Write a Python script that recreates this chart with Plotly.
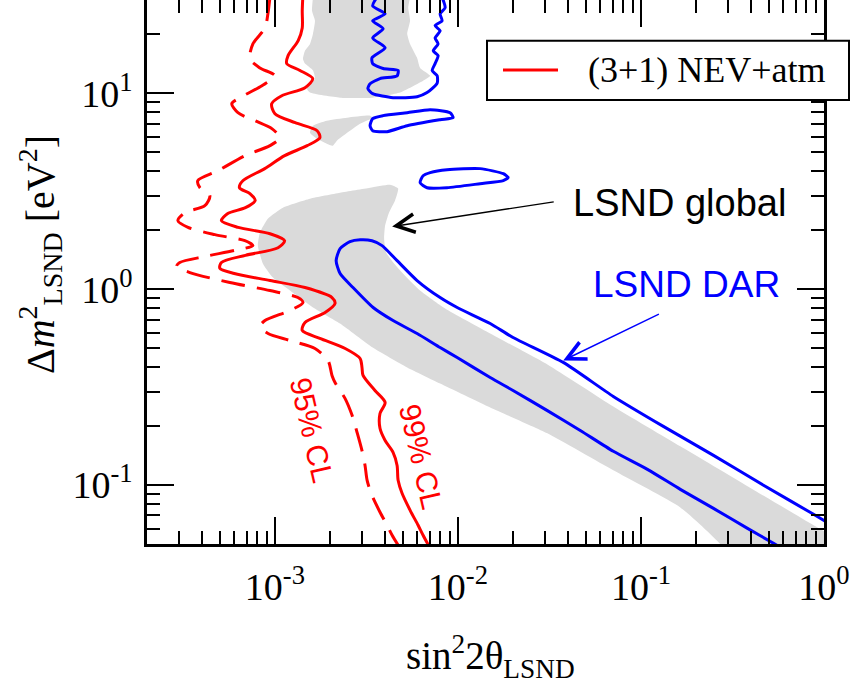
import math
import plotly.graph_objects as go

# ---------------- data (sin^2 2theta , Delta m^2 [eV^2]) ----------------
# (3+1) NEV+atm, 99% CL (solid red)
cl99_s2 = [1.42e-3, 1.41e-3, 1.41e-3, 1.34e-3, 1.18e-3, 1.16e-3, 1.37e-3, 1.61e-3, 1.46e-3, 1.09e-3,
           9.6e-4, 1.0e-3, 1.29e-3, 1.70e-3, 1.76e-3, 1.50e-3, 1.13e-3, 8.8e-4, 6.7e-4, 6.4e-4,
           7.3e-4, 7.8e-4, 6.9e-4, 5.5e-4, 5.1e-4, 6.3e-4, 9.4e-4, 1.13e-3, 1.04e-3, 6.9e-4,
           5.1e-4, 5.0e-4, 6.0e-4, 9.4e-4, 1.46e-3, 2.05e-3, 2.13e-3, 1.88e-3, 1.46e-3, 1.41e-3,
           1.76e-3, 2.42e-3, 2.92e-3, 2.99e-3, 3.03e-3, 3.52e-3, 4.00e-3, 3.75e-3, 3.75e-3, 4.00e-3,
           4.42e-3, 4.65e-3, 4.71e-3, 4.95e-3, 5.48e-3, 6.06e-3, 6.45e-3, 7.05e-3]
cl99_dm2 = [31, 26.4, 21.6, 18.6, 15.6, 14.2, 13.1, 11.9, 10.7, 9.73,
            8.86, 7.88, 7.09, 6.45, 5.94, 5.41, 4.81, 4.13, 3.59, 3.30,
            3.08, 2.84, 2.61, 2.43, 2.24, 2.07, 1.92, 1.77, 1.63, 1.49,
            1.37, 1.28, 1.203, 1.108, 1.020, 0.907, 0.846, 0.761, 0.676, 0.616,
            0.561, 0.498, 0.443, 0.399, 0.363, 0.304, 0.264, 0.232, 0.195, 0.169,
            0.147, 0.126, 0.1057, 0.0908, 0.0743, 0.0623, 0.0554, 0.0475]

# (3+1) NEV+atm, 95% CL (dashed red)
cl95_s2 = [9.39e-4, 9.17e-4, 8.82e-4, 7.58e-4, 7.30e-4, 8.28e-4, 1.0e-3, 8.49e-4, 6.44e-4, 5.81e-4,
           6.28e-4, 7.78e-4, 9.62e-4, 1.065e-3, 9.39e-4, 6.85e-4, 4.88e-4, 3.79e-4, 3.89e-4, 4.41e-4,
           4.14e-4, 3.22e-4, 2.95e-4, 3.35e-4, 4.70e-4, 6.85e-4, 7.58e-4, 6.04e-4, 4.14e-4, 3.02e-4,
           2.90e-4, 3.43e-4, 5.67e-4, 9.39e-4, 1.335e-3, 1.423e-3, 1.208e-3, 8.82e-4, 8.28e-4, 9.17e-4,
           1.208e-3, 1.655e-3, 1.95e-3, 2.05e-3, 2.13e-3, 2.415e-3, 2.64e-3, 2.81e-3, 2.99e-3, 3.107e-3,
           3.19e-3, 3.39e-3, 3.753e-3, 4.10e-3, 4.37e-3, 4.83e-3]
cl95_dm2 = [31, 25.8, 21.6, 17.9, 15.0, 13.5, 12.3, 10.95, 9.51, 8.86,
            7.97, 7.26, 6.61, 5.94, 5.41, 4.81, 4.03, 3.59, 3.30, 3.01,
            2.67, 2.46, 2.24, 2.07, 1.90, 1.77, 1.67, 1.58, 1.47, 1.37,
            1.31, 1.217, 1.082, 0.985, 0.907, 0.855, 0.779, 0.692, 0.645, 0.594,
            0.547, 0.498, 0.433, 0.363, 0.334, 0.277, 0.227, 0.186, 0.150, 0.126,
            0.1057, 0.0886, 0.0726, 0.0623, 0.0554, 0.0475]

# LSND DAR (blue) main region
dar_s2 = [0.745, 0.530, 0.382, 0.249, 0.164, 0.1084, 0.0706, 0.0466, 0.0308, 0.0200,
          0.0150, 9.90e-3, 7.99e-3, 5.98e-3, 4.42e-3, 3.44e-3, 2.67e-3, 2.27e-3, 2.16e-3, 2.27e-3,
          2.57e-3, 2.92e-3, 3.39e-3, 3.85e-3, 4.65e-3, 5.98e-3, 7.99e-3, 9.90e-3, 0.0150, 0.0200,
          0.0376, 0.0706, 0.1325, 0.249, 0.467, 0.877, 1.40]
dar_dm2 = [0.0418, 0.0504, 0.0601, 0.0760, 0.0951, 0.1203, 0.1487, 0.190, 0.240, 0.304,
           0.354, 0.448, 0.504, 0.594, 0.692, 0.807, 1.020, 1.203, 1.40, 1.614,
           1.751, 1.79, 1.77, 1.67, 1.40, 1.108, 0.907, 0.807, 0.668, 0.567,
           0.423, 0.2836, 0.1994, 0.1418, 0.0997, 0.0709, 0.0547]

# LSND DAR islands
dar_isl1_s2 = [3.31e-3, 3.42e-3, 3.90e-3, 5.28e-3, 7.05e-3, 9.06e-3, 9.41e-3, 7.99e-3, 5.28e-3, 4.10e-3, 3.42e-3, 3.31e-3]
dar_isl1_dm2 = [6.84, 7.43, 7.70, 7.97, 8.26, 7.97, 7.52, 7.34, 6.84, 6.38, 6.45, 6.84]
dar_isl2_s2 = [6.21e-3, 6.45e-3, 7.05e-3, 8.72e-3, 1.322e-2, 1.77e-2, 1.88e-2, 1.77e-2, 1.322e-2, 8.72e-3, 6.78e-3, 6.21e-3]
dar_isl2_dm2 = [3.50, 3.80, 3.94, 4.08, 4.13, 3.89, 3.72, 3.59, 3.46, 3.30, 3.30, 3.50]
dar_top_s2 = [3.61e-3, 3.42e-3, 4.00e-3, 3.42e-3, 3.90e-3, 3.42e-3, 4.00e-3, 3.39e-3, 3.42e-3, 3.90e-3,
              4.71e-3, 4.65e-3, 3.75e-3, 3.31e-3, 3.22e-3, 3.42e-3, 4.42e-3, 5.98e-3, 6.78e-3, 7.70e-3,
              7.70e-3, 7.23e-3, 7.50e-3, 7.79e-3, 7.33e-3, 7.79e-3, 7.50e-3, 7.99e-3, 7.50e-3, 8.19e-3,
              7.99e-3, 8.51e-3, 8.19e-3]
dar_top_dm2 = [31, 28.0, 25.5, 23.5, 21.4, 19.2, 17.1, 15.2, 14.2, 13.4,
               13.1, 12.3, 11.9, 11.2, 10.6, 9.97, 9.51, 9.62, 10.1, 11.3,
               12.3, 13.1, 14.2, 15.6, 16.5, 17.9, 19.2, 20.9, 22.2, 23.5,
               25.5, 27.4, 31]

# LSND global (grey) regions
glob_top_s2 = [1.614e-3, 1.594e-3, 1.655e-3, 1.614e-3, 1.554e-3, 1.459e-3, 1.423e-3, 1.459e-3, 1.614e-3, 1.655e-3,
               1.495e-3, 1.554e-3, 2.268e-3, 3.42e-3, 4.83e-3, 6.45e-3, 7.05e-3, 6.21e-3, 5.98e-3, 5.476e-3,
               5.28e-3, 5.476e-3, 5.35e-3, 5.476e-3]
glob_top_dm2 = [31, 26.4, 23.5, 20.2, 17.9, 16.5, 15.0, 14.2, 13.1, 11.9,
                10.6, 10.1, 9.51, 9.51, 10.1, 11.6, 12.3, 13.5, 15.2, 17.9,
                20.2, 23.5, 27.4, 31]
glob_mid_s2 = [1.554e-3, 1.614e-3, 1.92e-3, 2.48e-3, 3.31e-3, 3.42e-3, 2.917e-3, 2.48e-3, 2.18e-3, 2.07e-3, 1.92e-3, 1.697e-3, 1.554e-3]
glob_mid_dm2 = [6.30, 6.84, 7.26, 7.52, 7.70, 7.52, 7.01, 6.30, 5.74, 5.41, 5.54, 5.87, 6.30]
glob_main_s2 = [8.07e-4, 8.28e-4, 9.17e-4, 1.106e-3, 1.554e-3, 2.268e-3, 3.309e-3, 4.257e-3, 4.71e-3, 4.533e-3,
                4.20e-3, 3.997e-3, 3.95e-3, 4.05e-3, 4.71e-3, 6.21e-3, 8.51e-3, 1.50e-2, 3.08e-2, 7.06e-2,
                0.164, 0.382, 0.877, 1.40, 1.40, 0.308, 0.272, 0.164, 7.06e-2, 3.08e-2,
                1.50e-2, 7.99e-3, 5.28e-3, 3.42e-3, 2.268e-3, 1.614e-3, 1.208e-3, 9.75e-4, 8.60e-4, 8.07e-4]
glob_main_dm2 = [1.67, 1.95, 2.30, 2.61, 2.90, 3.11, 3.30, 3.42, 3.27, 2.84,
                 2.46, 2.11, 1.81, 1.539, 1.28, 0.985, 0.797, 0.594, 0.413, 0.252,
                 0.1576, 0.0986, 0.0623, 0.0475, 0.0412, 0.0412, 0.0498, 0.0769, 0.1189, 0.1837,
                 0.249, 0.330, 0.399, 0.504, 0.668, 0.807, 0.985, 1.147, 1.35, 1.67]

# axes
x_range = [2e-4, 1.0]
y_range = [0.05, 30.0]
x_tickvals = [1e-3, 1e-2, 1e-1, 1.0]
x_ticktext = ["10<sup>-3</sup>", "10<sup>-2</sup>", "10<sup>-1</sup>", "10<sup>0</sup>"]
y_tickvals = [1e-1, 1.0, 10.0]
y_ticktext = ["10<sup>-1</sup>", "10<sup>0</sup>", "10<sup>1</sup>"]
x_minor = [m * 10.0 ** e for e in (-4, -3, -2, -1) for m in range(2, 10) if 2e-4 < m * 10.0 ** e < 1]
y_minor = [m * 10.0 ** e for e in (-2, -1, 0, 1) for m in range(2, 10) if 0.05 < m * 10.0 ** e < 30]

# annotation positions (data values)
global_label = (0.162, 2.77)
global_arrow_tail = (0.034, 2.80)
global_arrow_head = (4.37e-3, 2.09)
dar_label = (0.177, 1.057)
dar_arrow_tail = (0.1277, 0.752)
dar_arrow_head = (3.76e-2, 0.433)
cl95_label = (1.59e-3, 0.190)
cl99_label = (6.29e-3, 0.140)

RED = "#ff0000"
BLUE = "#0000ff"
GREY = "#dadada"
SERIF = "Liberation Serif"
SANS = "Liberation Sans"

fig = go.Figure()

for gx, gy in [(glob_top_s2, glob_top_dm2), (glob_mid_s2, glob_mid_dm2), (glob_main_s2, glob_main_dm2)]:
    fig.add_trace(go.Scatter(x=gx, y=gy, mode="lines", fill="toself", fillcolor=GREY,
                             line=dict(width=0, color=GREY, shape="spline", smoothing=0.5),
                             hoverinfo="skip", showlegend=False))

for bx, by in [(dar_s2, dar_dm2), (dar_isl1_s2, dar_isl1_dm2), (dar_isl2_s2, dar_isl2_dm2), (dar_top_s2, dar_top_dm2)]:
    fig.add_trace(go.Scatter(x=bx, y=by, mode="lines",
                             line=dict(width=3, color=BLUE, shape="spline", smoothing=0.6),
                             showlegend=False))

fig.add_trace(go.Scatter(x=cl95_s2, y=cl95_dm2, mode="lines", name="95% CL",
                         line=dict(width=3, color=RED, dash="24px,12px", shape="spline", smoothing=0.8),
                         showlegend=False))
fig.add_trace(go.Scatter(x=cl99_s2, y=cl99_dm2, mode="lines", name="(3+1) NEV+atm",
                         line=dict(width=3, color=RED, shape="spline", smoothing=0.8),
                         showlegend=False))

L = math.log10

def arrow(head, tail, color):
    return dict(x=L(head[0]), y=L(head[1]), ax=L(tail[0]), ay=L(tail[1]), axref="x", ayref="y",
                xref="x", yref="y", text="", showarrow=True, arrowhead=5, arrowsize=2.6,
                arrowwidth=1.4, arrowcolor=color)

# plot-area geometry used to place paper-referenced items (pixels)
PLOT_L, PLOT_R, PLOT_T, PLOT_B = 147.0, 824.0, 0.0, 544.0
def px(xp):
    return (xp - PLOT_L) / (PLOT_R - PLOT_L)
def py(yp):
    return (PLOT_B - yp) / (PLOT_B - PLOT_T)

annotations = [
    dict(x=L(global_label[0]), y=L(global_label[1]), xref="x", yref="y", text="LSND global",
         showarrow=False, font=dict(family=SANS, size=38, color="black"), xanchor="center", yanchor="middle"),
    arrow(global_arrow_head, global_arrow_tail, "black"),
    dict(x=L(dar_label[0]), y=L(dar_label[1]), xref="x", yref="y", text="LSND DAR",
         showarrow=False, font=dict(family=SANS, size=37, color=BLUE), xanchor="center", yanchor="middle"),
    arrow(dar_arrow_head, dar_arrow_tail, BLUE),
    dict(x=L(cl95_label[0]), y=L(cl95_label[1]), xref="x", yref="y", text="95% CL", textangle=77,
         showarrow=False, font=dict(family=SANS, size=30, color=RED), xanchor="center", yanchor="middle"),
    dict(x=L(cl99_label[0]), y=L(cl99_label[1]), xref="x", yref="y", text="99% CL", textangle=77,
         showarrow=False, font=dict(family=SANS, size=30, color=RED), xanchor="center", yanchor="middle"),
    # legend text
    dict(x=px(586), y=py(70), xref="paper", yref="paper", text="(3+1) NEV+atm", showarrow=False,
         font=dict(family=SERIF, size=36, color="black"), xanchor="left", yanchor="middle"),
    # y axis title
    dict(x=px(40), y=py(255), xref="paper", yref="paper",
         text="Δ<i>m</i><sup>2</sup><sub>LSND</sub> [eV<sup>2</sup>]", textangle=-90, showarrow=False,
         font=dict(family=SERIF, size=40, color="black"), xanchor="center", yanchor="middle"),
    # x axis title
    dict(x=px(490), y=py(656), xref="paper", yref="paper",
         text="sin<sup>2</sup>2θ<sub>LSND</sub>", showarrow=False,
         font=dict(family=SERIF, size=39, color="black"), xanchor="center", yanchor="middle"),
]

shapes = [
    dict(type="rect", xref="paper", yref="paper", x0=px(487), x1=px(849), y0=py(100), y1=py(40.7),
         line=dict(color="black", width=2), fillcolor="white", layer="above"),
    dict(type="line", xref="paper", yref="paper", x0=px(503), x1=px(558), y0=py(70), y1=py(70),
         line=dict(color=RED, width=3), layer="above"),
]

axis_common = dict(type="log", showgrid=False, zeroline=False, showline=True, linecolor="black",
                   linewidth=2.5, mirror="allticks", ticks="inside", ticklen=27, tickwidth=2,
                   tickcolor="black", tickmode="array")

fig.update_layout(
    width=853, height=689,
    margin=dict(l=147, r=29, t=0, b=145, autoexpand=False),
    paper_bgcolor="white", plot_bgcolor="white",
    showlegend=False,
    annotations=annotations,
    shapes=shapes,
    xaxis=dict(axis_common, range=[L(x_range[0]), L(x_range[1])], tickvals=x_tickvals, ticktext=x_ticktext,
               tickfont=dict(family=SERIF, size=38, color="black"), ticklabelstandoff=8,
               minor=dict(tickmode="array", tickvals=x_minor, ticks="inside", ticklen=13, tickwidth=2,
                          tickcolor="black", showgrid=False)),
    yaxis=dict(axis_common, range=[L(y_range[0]), L(y_range[1])], tickvals=y_tickvals, ticktext=y_ticktext,
               tickfont=dict(family=SERIF, size=38, color="black"), ticklabelstandoff=4,
               minor=dict(tickmode="array", tickvals=y_minor, ticks="inside", ticklen=13, tickwidth=2,
                          tickcolor="black", showgrid=False)),
)

fig.write_html("out.html", config={"displayModeBar": False},
               post_script="document.body.style.margin='0px';document.body.style.padding='0px';")
